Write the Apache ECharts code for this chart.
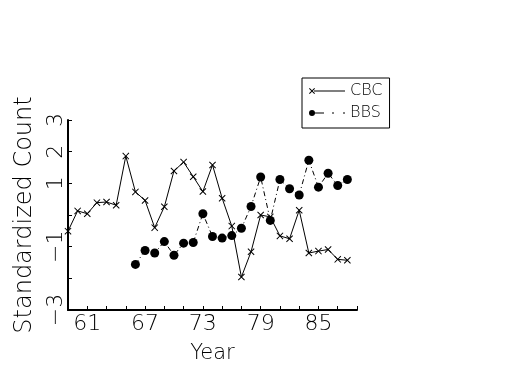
<!DOCTYPE html>
<html><head><meta charset="utf-8">
<script src="https://cdn.jsdelivr.net/npm/echarts@6/dist/echarts.min.js"></script>
<style>html,body{margin:0;padding:0;background:#fff}#c{width:525px;height:375px}</style>
</head><body><div id="c"></div>
<script>
var cbcYears = [59,60,61,62,63,64,65,66,67,68,69,70,71,72,73,74,75,76,77,78,79,80,81,82,83,84,85,86,87,88];
var cbcValues = [-0.51,0.13,0.04,0.39,0.41,0.31,1.86,0.73,0.46,-0.40,0.26,1.39,1.67,1.21,0.74,1.58,0.53,-0.35,-1.96,-1.16,0.0,-0.06,-0.66,-0.75,0.15,-1.20,-1.14,-1.09,-1.40,-1.43];
var bbsYears = [66,67,68,69,70,71,72,73,74,75,76,77,78,79,80,81,82,83,84,85,86,87,88];
var bbsValues = [-1.56,-1.12,-1.20,-0.84,-1.27,-0.89,-0.87,0.04,-0.68,-0.73,-0.65,-0.42,0.27,1.20,-0.17,1.12,0.83,0.63,1.73,0.88,1.32,0.93,1.12];
var xTickLabels = [61,67,73,79,85];
var yTickLabels = [3,2,1,-1,-3];

function pairs(xs, ys){ return xs.map(function(x,i){ return [x, ys[i]]; }); }
var FONT = 'DejaVu Sans';
var crossPath = 'path://M0,1L1,0L5,4L9,0L10,1L6,5L10,9L9,10L5,6L1,10L0,9L4,5Z';
var cbcIcon = 'path://M0,0.7L0.7,0L3,2.3L5.3,0L6,0.7L3.7,3L6,5.3L5.3,6L3,3.7L0.7,6L0,5.3L2.3,3Z' +
              'M5,2.5L36,2.5L36,3.5L5,3.5Z';
var bbsIcon = 'path://M6,3A3,3,0,1,1,0,3A3,3,0,1,1,6,3Z' +
              'M5,2.5L15,2.5L15,3.5L5,3.5Z' +
              'M23,2.5L25,2.5L25,3.5L23,3.5Z' +
              'M34,2.5L36,2.5L36,3.5L34,3.5Z';

var chart = echarts.init(document.getElementById('c'), null, {renderer:'canvas'});
chart.setOption({
  animation:false,
  backgroundColor:'#fff',
  textStyle:{fontFamily:FONT, color:'#000'},
  grid:{left:68, right:168, top:120, bottom:65, containLabel:false},
  legend:{
    orient:'vertical', left:302, top:78,
    borderColor:'#000', borderWidth:1, borderRadius:0,
    padding:[5,7,7,7], itemGap:6, itemWidth:36, itemHeight:6, itemTextGap:6,
    textStyle:{fontFamily:FONT, fontSize:16, fontWeight:200, color:'#000'},
    data:[{name:'CBC', icon:cbcIcon}, {name:'BBS', icon:bbsIcon}]
  },
  xAxis:{
    type:'value', min:59, max:89, interval:2,
    name:'Year', nameLocation:'middle', nameGap:33,
    nameTextStyle:{fontFamily:FONT, fontSize:21, fontWeight:200, color:'#000'},
    axisLine:{show:true, onZero:false, lineStyle:{color:'#000', width:2}},
    axisTick:{show:true, inside:true, length:4, lineStyle:{color:'#000', width:1}},
    axisLabel:{margin:3, fontFamily:FONT, fontSize:22, fontWeight:200, color:'#000',
      formatter:function(v){ return xTickLabels.indexOf(v) >= 0 ? String(v) : ''; }},
    splitLine:{show:false}
  },
  yAxis:{
    type:'value', min:-3, max:3, interval:1,
    name:'Standardized Count', nameLocation:'middle', nameGap:31, nameRotate:90,
    nameTextStyle:{fontFamily:FONT, fontSize:24, fontWeight:200, color:'#000'},
    axisLine:{show:true, onZero:false, lineStyle:{color:'#000', width:2}},
    axisTick:{show:true, inside:true, length:4, lineStyle:{color:'#000', width:1}},
    axisLabel:{margin:1, rotate:90, fontFamily:FONT, fontSize:22, fontWeight:200, color:'#000',
      formatter:function(v){ return yTickLabels.indexOf(v) >= 0 ? String(v).replace('-', '\u2212') : ''; }},
    splitLine:{show:false}
  },
  series:[
    {name:'CBC', type:'line', data:pairs(cbcYears, cbcValues),
     symbol:crossPath, symbolSize:7, showAllSymbol:true,
     itemStyle:{color:'#000'}, lineStyle:{color:'#000', width:1, type:'solid'}},
    {name:'BBS', type:'line', data:pairs(bbsYears, bbsValues),
     symbol:'circle', symbolSize:9, showAllSymbol:true,
     itemStyle:{color:'#000'}, lineStyle:{color:'#000', width:1, type:[5,3,1,3]}}
  ]
});
</script></body></html>
